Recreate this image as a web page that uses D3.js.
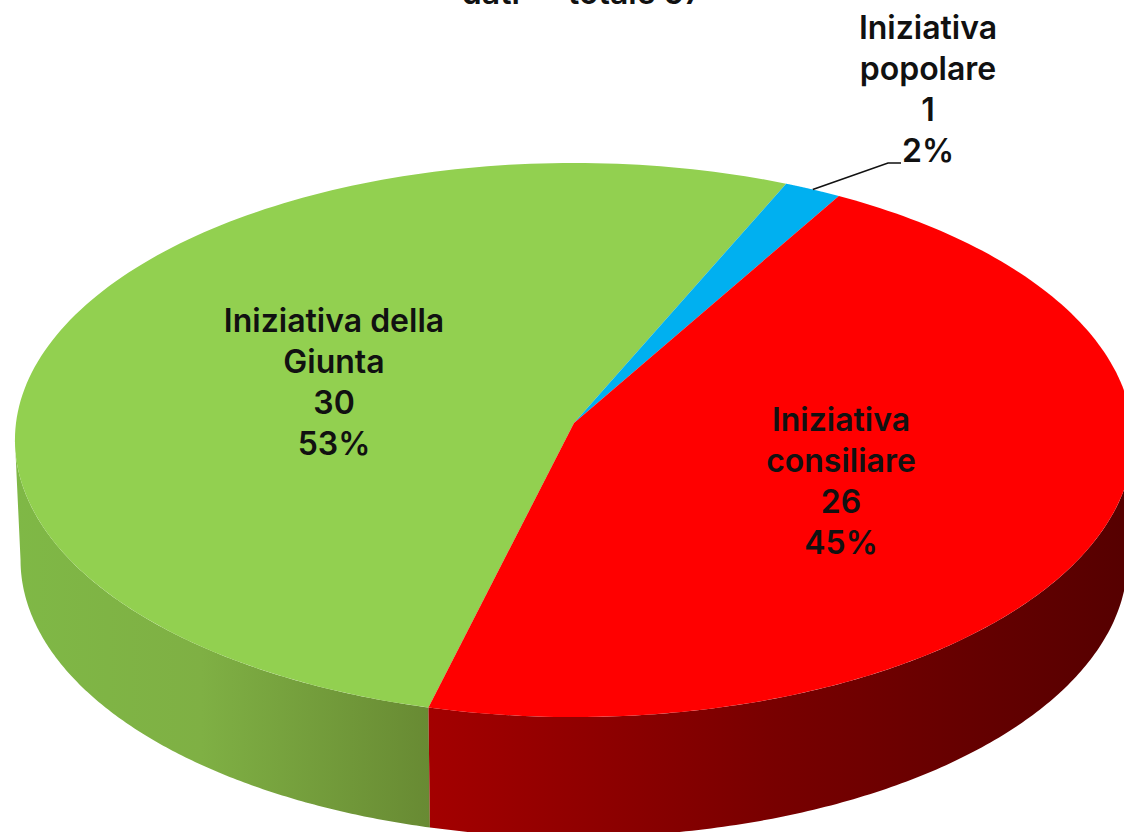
<!DOCTYPE html>
<html><head><meta charset="utf-8">
<script src="https://cdn.jsdelivr.net/npm/d3@7"></script>
<style>html,body{margin:0;background:#fff}svg{display:block}
text{font-family:Inter,Roboto,"Liberation Sans",sans-serif;font-weight:600;fill:#111;text-anchor:middle}</style>
</head><body><svg id="c" width="1124" height="832"></svg>
<script>
const categories=["Iniziativa della Giunta","Iniziativa popolare","Iniziativa consiliare"];
const seriesValues=[30,1,26];
const percentLabels=["53%","2%","45%"];
const labelLines=[["Iniziativa della","Giunta"],["Iniziativa","popolare"],["Iniziativa","consiliare"]];
const topColors=["#92d050","#00b0f0","#ff0000"];

const W=1124,H=832,cx=574,cy=423,A=276,B=558,k=0.0614,depth=120,bottomScale=0.99;
const svg=d3.select("#c");
const start=-165.8*Math.PI/180;
const pie=d3.pie().sort(null).startAngle(start).endAngle(start+2*Math.PI);
const arcs=pie(seriesValues);
// angle measured clockwise from the back of the disc
const proj=(a,d=0)=>{const u=Math.sin(a),v=-Math.cos(a),s=1/(1-k*v),f=d?bottomScale:1;return [cx+B*u*s*f,cy+A*v*s+d];};
const line=d3.line();
const sample=(a0,a1,d=0)=>d3.range(0,161).map(i=>proj(a0+(a1-a0)*i/160,d));

const defs=svg.append("defs");
const g1=defs.append("linearGradient").attr("id","sideG").attr("gradientUnits","userSpaceOnUse")
 .attr("x1",14).attr("x2",430).attr("y1",0).attr("y2",0);
g1.append("stop").attr("offset",0).attr("stop-color","#7fb846");
g1.append("stop").attr("offset",0.45).attr("stop-color","#7fb044");
g1.append("stop").attr("offset",1).attr("stop-color","#688a33");
const g2=defs.append("linearGradient").attr("id","sideR").attr("gradientUnits","userSpaceOnUse")
 .attr("x1",430).attr("x2",1124).attr("y1",0).attr("y2",0);
g2.append("stop").attr("offset",0).attr("stop-color","#a30000");
g2.append("stop").attr("offset",0.5).attr("stop-color","#780000");
g2.append("stop").attr("offset",1).attr("stop-color","#560000");
const sideFill=["url(#sideG)",null,"url(#sideR)"];

// side walls: only the part of each slice on the near half
const nearA=Math.PI/2+k, nearB=3*Math.PI/2-k;
arcs.forEach((d,i)=>{
  if(!sideFill[i])return;
  const a0=d.startAngle<0?d.startAngle+2*Math.PI:d.startAngle;
  const a1=a0+(d.endAngle-d.startAngle);
  const ranges=[[Math.max(a0,nearA),Math.min(a1,nearB)],[Math.max(a0-2*Math.PI,nearA),Math.min(a1-2*Math.PI,nearB)]];
  ranges.forEach(([lo,hi])=>{
    if(hi<=lo)return;
    const pts=sample(lo,hi,0).concat(sample(hi,lo,depth));
    svg.append("path").attr("d",line(pts)+"Z").attr("fill",sideFill[i]);
  });
});
// top faces
arcs.forEach((d,i)=>{
  const pts=[[cx,cy],...sample(d.startAngle,d.endAngle)];
  svg.append("path").attr("d",line(pts)+"Z").attr("fill",topColors[i]);
});
// labels
const labelPos=[[334,320],[928,27],[841,419]];
const lh=41;
labelLines.forEach((ls,i)=>{
  const all=[...ls,String(seriesValues[i]),percentLabels[i]];
  all.forEach((t,j)=>svg.append("text").attr("x",labelPos[i][0]).attr("y",labelPos[i][1]+j*lh)
    .attr("dominant-baseline","central").attr("font-size",32).text(t));
});
// leader line
const mid=(arcs[1].startAngle+arcs[1].endAngle)/2;
const p=proj(mid);
svg.append("path").attr("d",line([p,[888,163],[901,163]])).attr("fill","none").attr("stroke","#111").attr("stroke-width",1.6);
// title, cut by the top edge as in the reference
svg.append("text").attr("x",582).attr("y",4).attr("font-size",32).text("dati — totale 57");
</script></body></html>
